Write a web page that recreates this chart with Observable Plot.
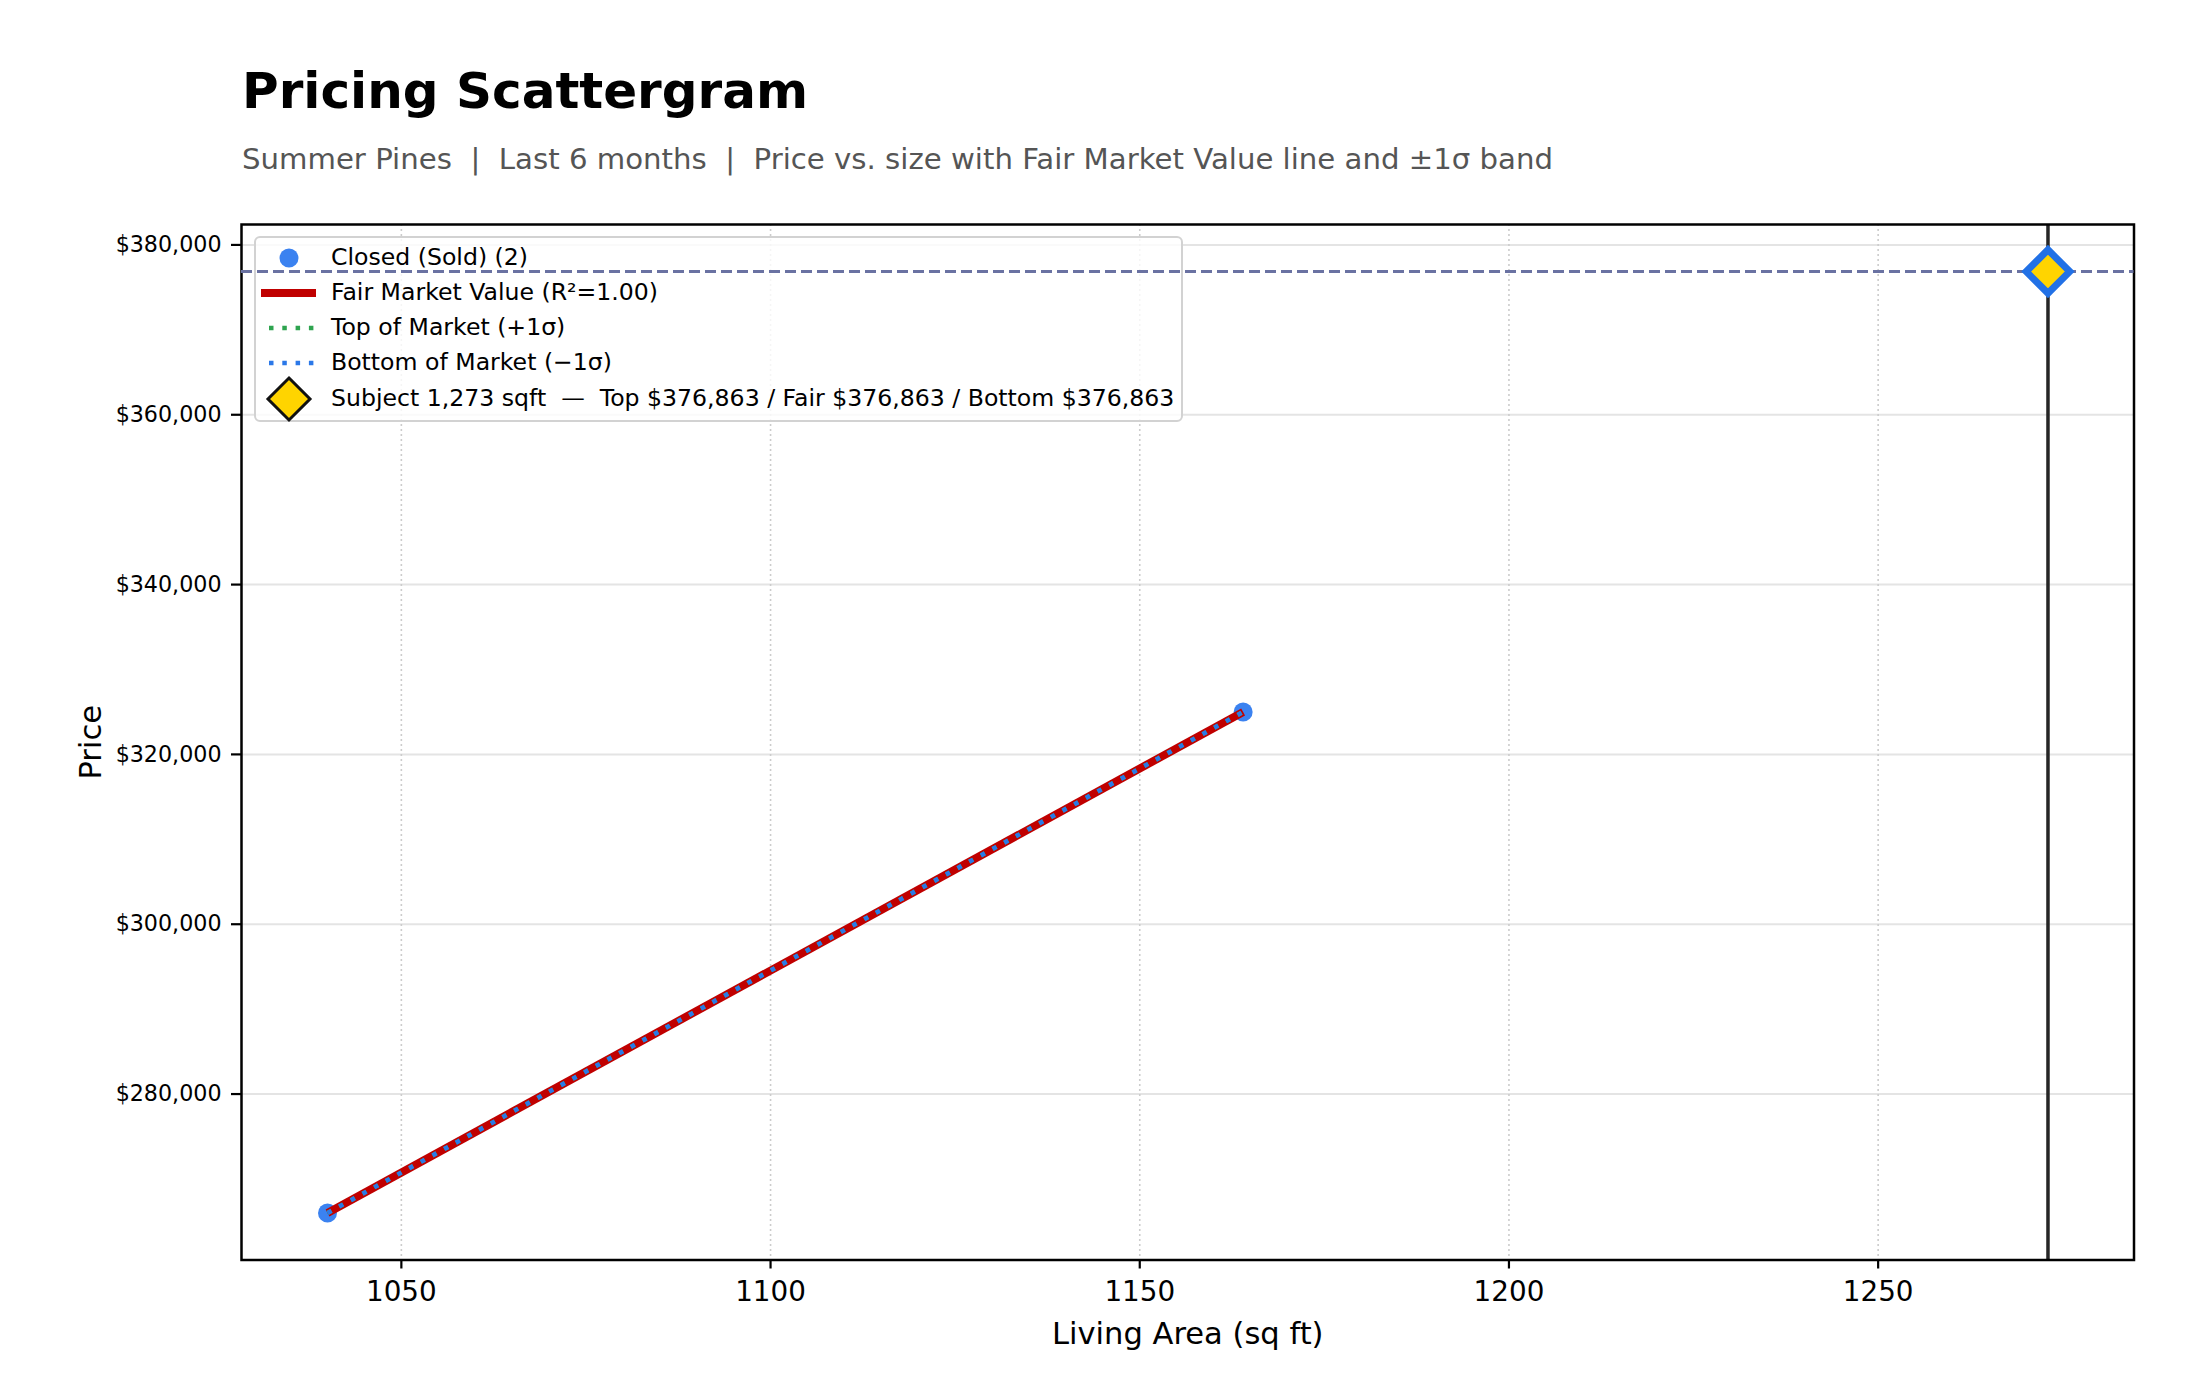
<!DOCTYPE html>
<html>
<head>
<meta charset="utf-8">
<script src="https://cdn.jsdelivr.net/npm/d3@7"></script>
<script src="https://cdn.jsdelivr.net/npm/@observablehq/plot@0.6"></script>
<style>
  html, body { margin: 0; padding: 0; background: #fff; }
  #wrap { position: relative; width: 2200px; height: 1400px; font-family: "DejaVu Sans", sans-serif; color: #000; }
  #header { position: relative; width: 2200px; height: 190px; }
  .title { position: absolute; left: 242px; top: 65.7px; font-size: 50px; line-height: 1; font-weight: bold; white-space: pre; }
  .subtitle { position: absolute; left: 242px; top: 145.3px; font-size: 29.2px; line-height: 1; color: #555; white-space: pre; }
  #legend { position: absolute; left: 254px; top: 236px; width: 925px; height: 182px; border: 2px solid #d2d2d2; border-radius: 6px; background: rgba(255,255,255,0.8); box-sizing: content-box; z-index: 1; }
  #overlay { position: absolute; left: 0; top: 190px; z-index: 2; pointer-events: none; }
  .row { position: absolute; left: 0; height: 36px; }
  .row svg { position: absolute; left: 0; top: 0; overflow: visible; }
  .row span { position: absolute; left: 75px; font-size: 23.6px; line-height: 1; white-space: pre; top: 6.2px; }
</style>
</head>
<body>
<div id="wrap">
  <div id="header">
    <div class="title" id="title"></div>
    <div class="subtitle" id="subtitle"></div>
  </div>
  <div id="chart"></div>
  <div id="legend"></div>
  <div id="overlay"></div>
</div>
<script>
// ---- data ----
const titleText = "Pricing Scattergram";
const subtitleText = "Summer Pines  |  Last 6 months  |  Price vs. size with Fair Market Value line and \u00b11\u03c3 band";
const soldSqft = [1040, 1164];
const soldPrice = [266000, 325000];
const fmvSqft = [1040, 1164];
const fmvPrice = [266000, 325000];
const topPrice = [266000, 325000];
const bottomPrice = [266000, 325000];
const subjectSqft = [1273];
const subjectFair = [376863];
const xTicks = [1050, 1100, 1150, 1200, 1250];
const yTicks = [280000, 300000, 320000, 340000, 360000, 380000];
const xDomain = [1028.35, 1284.65];
const yDomain = [260456.85, 382406.15];
const legendLabels = [
  "Closed (Sold) (2)",
  "Fair Market Value (R\u00b2=1.00)",
  "Top of Market (+1\u03c3)",
  "Bottom of Market (\u22121\u03c3)",
  "Subject 1,273 sqft  \u2014  Top $376,863 / Fair $376,863 / Bottom $376,863"
];

const colors = {
  sold: "#3b82f0",
  fmv: "#c00000",
  topM: "#2ea44f",
  bottomM: "#2b78e8",
  subjLine: "#6a72a2",
  vline: "#262626",
  diamondFill: "#ffd400",
  diamondStroke: "#2271e6"
};

document.getElementById("title").textContent = titleText;
document.getElementById("subtitle").textContent = subtitleText;

const soldData = soldSqft.map((x, i) => ({x, y: soldPrice[i]}));
const fmvData = fmvSqft.map((x, i) => ({x, y: fmvPrice[i]}));
const topData = fmvSqft.map((x, i) => ({x, y: topPrice[i]}));
const bottomData = fmvSqft.map((x, i) => ({x, y: bottomPrice[i]}));
const subjectData = subjectSqft.map((x, i) => ({x, y: subjectFair[i]}));

const layout = {
  width: 2200,
  height: 1210,
  marginTop: 34,
  marginBottom: 140.5,
  marginLeft: 241,
  marginRight: 66.5,
  x: { domain: xDomain, label: null },
  y: { domain: yDomain, label: null }
};

const chart = Plot.plot({
  ...layout,
  style: { fontFamily: "DejaVu Sans, sans-serif", background: "white", color: "#000", overflow: "visible" },
  marks: [
    Plot.ruleY(yTicks, { stroke: "#e4e4e4", strokeWidth: 2 }),
    Plot.ruleX(xTicks, { stroke: "#cccccc", strokeWidth: 1.6, strokeDasharray: "2,3" }),
    Plot.dot(soldData, { x: "x", y: "y", r: 9.5, fill: colors.sold, stroke: null }),
    Plot.line(fmvData, { x: "x", y: "y", stroke: colors.fmv, strokeWidth: 8, strokeLinecap: "butt" }),
    Plot.line(topData, { x: "x", y: "y", stroke: colors.topM, strokeWidth: 4.5, strokeDasharray: "4.5,8.8", strokeLinecap: "butt" }),
    Plot.line(bottomData, { x: "x", y: "y", stroke: colors.bottomM, strokeWidth: 4.5, strokeDasharray: "4.5,8.8", strokeLinecap: "butt" }),
    Plot.ruleX(subjectData, { x: "x", stroke: colors.vline, strokeWidth: 3.5 }),
    Plot.frame({ stroke: "#000", strokeWidth: 2.5 }),
    Plot.axisX({ ticks: xTicks, tickFormat: d3.format("d"), tickSize: 9, tickPadding: 12, fontSize: 27.8, strokeWidth: 2.2, label: null }),
    Plot.axisY({ ticks: yTicks, tickFormat: d3.format("$,"), tickSize: 10, tickPadding: 10, fontSize: 22.2, strokeWidth: 2.2, label: null }),
    Plot.text(["Living Area (sq ft)"], { frameAnchor: "bottom", lineAnchor: "bottom", dy: 84, fontSize: 30.56, fill: "#000" }),
    Plot.text(["Price"], { frameAnchor: "left", rotate: -90, textAnchor: "middle", lineAnchor: "middle", dx: -150, fontSize: 30.56, fill: "#000" })
  ]
});
document.getElementById("chart").appendChild(chart);

// subject reference line + marker drawn above the legend (same scales)
const overlay = Plot.plot({
  ...layout,
  axis: null,
  style: { background: "transparent", overflow: "visible" },
  marks: [
    Plot.ruleY(subjectData, { y: "y", stroke: colors.subjLine, strokeWidth: 3, strokeDasharray: "11,5" }),
    Plot.dot(subjectData, { x: "x", y: "y", symbol: "diamond2", r: 19.6, fill: colors.diamondFill, stroke: colors.diamondStroke, strokeWidth: 7, strokeLinejoin: "miter" })
  ]
});
document.getElementById("overlay").appendChild(overlay);

// ---- legend ----
const legend = document.getElementById("legend");
const rowCenters = [20, 55, 90, 125, 161];
const handles = [
  `<circle cx="33" cy="18" r="9.5" fill="${colors.sold}"/>`,
  `<line x1="5" x2="60" y1="18" y2="18" stroke="${colors.fmv}" stroke-width="8"/>`,
  `<line x1="13" x2="60" y1="18" y2="18" stroke="${colors.topM}" stroke-width="4.5" stroke-dasharray="4.5,8.8"/>`,
  `<line x1="13" x2="60" y1="18" y2="18" stroke="${colors.bottomM}" stroke-width="4.5" stroke-dasharray="4.5,8.8"/>`,
  `<path d="M33,-3 L54,18 L33,39 L12,18 Z" fill="${colors.diamondFill}" stroke="#111" stroke-width="3" stroke-linejoin="miter"/>`
];
legendLabels.forEach((lab, i) => {
  const row = document.createElement("div");
  row.className = "row";
  row.style.top = (rowCenters[i] - 18) + "px";
  row.style.width = "920px";
  row.innerHTML = `<svg width="70" height="36">${handles[i]}</svg><span></span>`;
  row.querySelector("span").textContent = lab;
  legend.appendChild(row);
});
</script>
</body>
</html>
